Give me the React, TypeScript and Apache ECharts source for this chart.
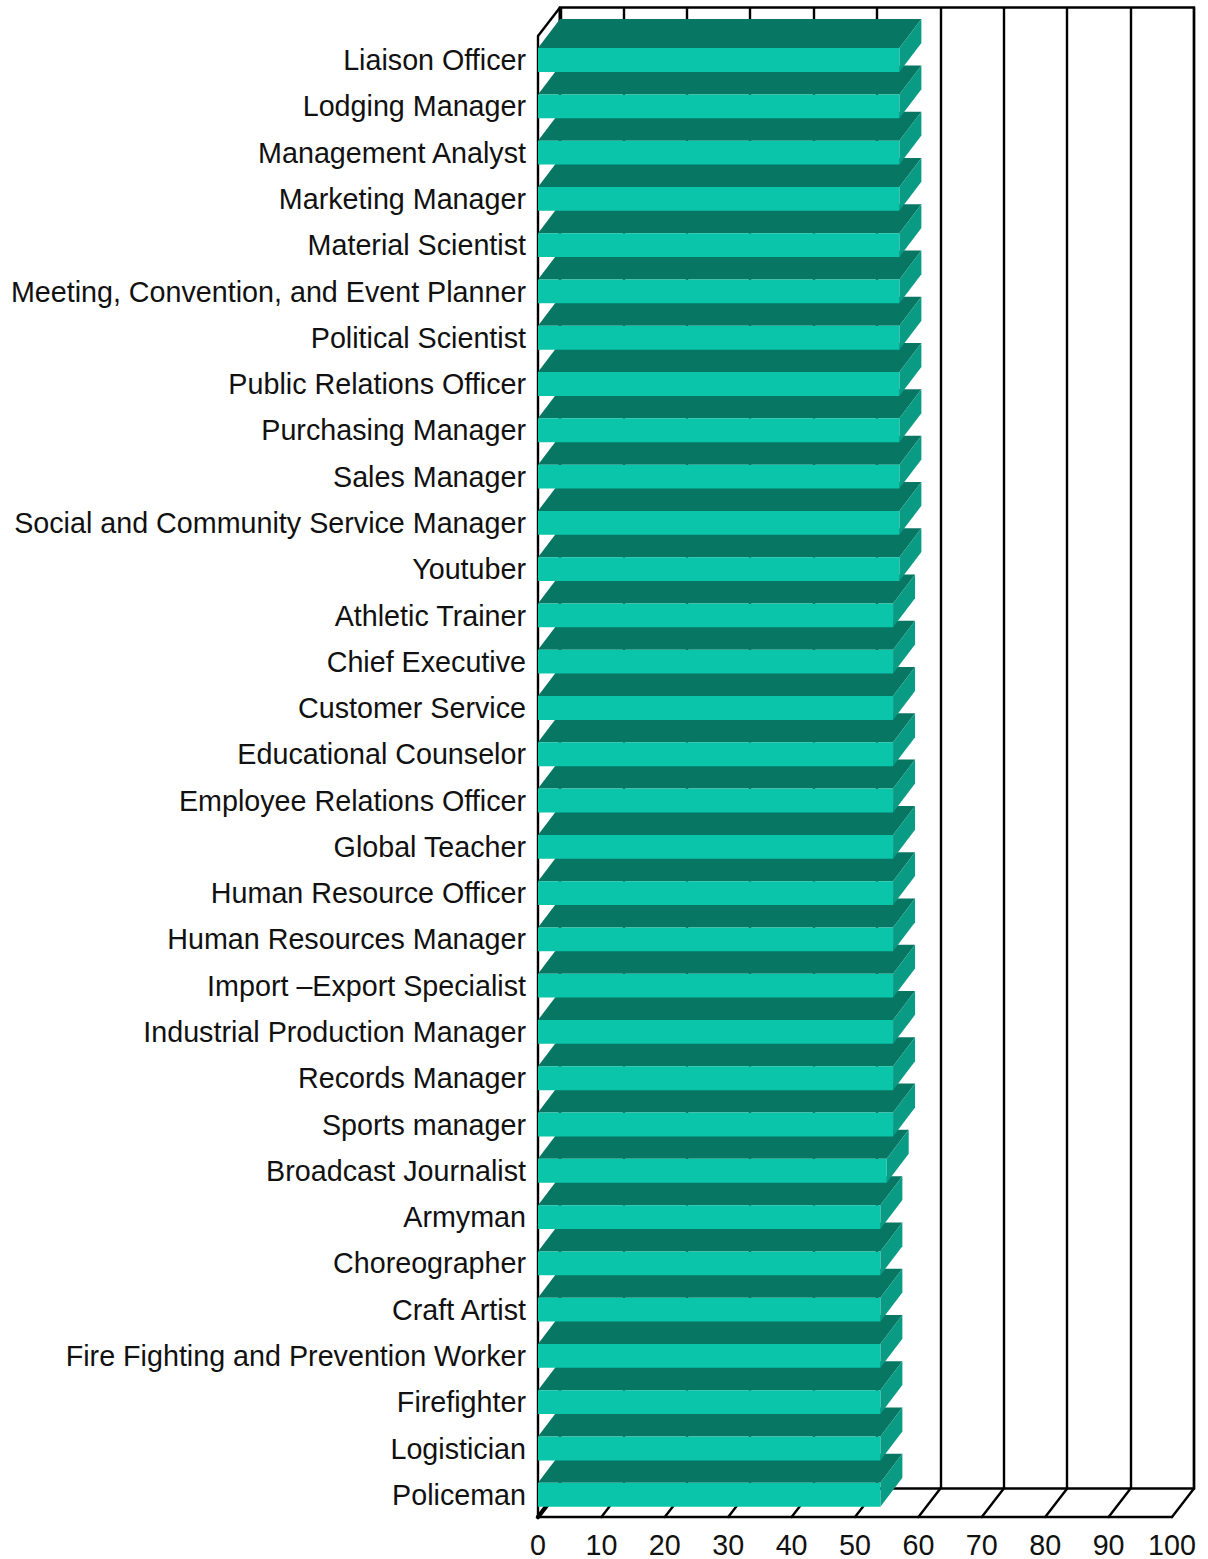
import React, { useEffect, useRef } from "react";
import * as echarts from "echarts";

const categories = [
  "Liaison Officer", "Lodging Manager", "Management Analyst", "Marketing Manager",
  "Material Scientist", "Meeting, Convention, and Event Planner", "Political Scientist",
  "Public Relations Officer", "Purchasing Manager", "Sales Manager",
  "Social and Community Service Manager", "Youtuber", "Athletic Trainer", "Chief Executive",
  "Customer Service", "Educational Counselor", "Employee Relations Officer", "Global Teacher",
  "Human Resource Officer", "Human Resources Manager", "Import –Export Specialist",
  "Industrial Production Manager", "Records Manager", "Sports manager", "Broadcast Journalist",
  "Armyman", "Choreographer", "Craft Artist", "Fire Fighting and Prevention Worker",
  "Firefighter", "Logistician", "Policeman",
];
const values = [
  57, 57, 57, 57, 57, 57, 57, 57, 57, 57, 57, 57,
  56, 56, 56, 56, 56, 56, 56, 56, 56, 56, 56, 56,
  55, 54, 54, 54, 54, 54, 54, 54,
];
const ticks = [0, 10, 20, 30, 40, 50, 60, 70, 80, 90, 100];

const DX = 22;
const DY = 29;
const FRONT = "#0AC5A9";
const TOP = "#077663";
const SIDE = "#0A9B84";
const FONT = "Liberation Sans";
const LINE = 2.4;

// Painted from the bottom category upward, so that upper bars overlap lower ones.
const orderedCategories = [...categories].reverse();
const orderedValues = [...values].reverse();

export default function App() {
  const ref = useRef<HTMLDivElement>(null);
  useEffect(() => {
    const chart = echarts.init(ref.current!, null, { renderer: "svg" });
    chart.setOption({
      animation: false,
      backgroundColor: "#fff",
      grid: [
        { left: 538, top: 36, width: 634, height: 1481 },
        { left: 560, top: 7.5, width: 634, height: 1481, show: true, borderColor: "#000", borderWidth: LINE, backgroundColor: "transparent" },
      ],
      xAxis: [
        {
          type: "value", gridIndex: 0, min: 0, max: 100, interval: 10,
          axisLine: { show: true, onZero: false, lineStyle: { color: "#000", width: LINE } },
          axisTick: { show: false },
          splitLine: { show: false },
          axisLabel: { color: "#111", fontSize: 28.7, fontFamily: FONT, margin: 13, showMinLabel: true, showMaxLabel: true },
        },
        {
          type: "value", gridIndex: 1, min: 0, max: 100, interval: 10,
          axisLine: { show: false }, axisTick: { show: false }, axisLabel: { show: false },
          splitLine: { show: true, lineStyle: { color: "#000", width: LINE } },
        },
      ],
      yAxis: [
        {
          type: "category", gridIndex: 0, data: orderedCategories,
          axisLine: { show: true, onZero: false, lineStyle: { color: "#000", width: LINE } },
          axisTick: { show: false },
          axisLabel: { color: "#111", fontSize: 28.7, fontFamily: FONT, margin: 12, interval: 0, verticalAlign: "top", lineHeight: 2 },
        },
        {
          type: "category", gridIndex: 1, data: orderedCategories,
          axisLine: { show: false }, axisTick: { show: false }, axisLabel: { show: false },
        },
      ],
      series: [
        {
          type: "custom", xAxisIndex: 0, yAxisIndex: 0, z: 3, silent: true,
          data: ticks.map((t) => [t]),
          encode: { x: 0 },
          renderItem: (params: any, api: any) => {
            const v = api.value(0);
            const x = api.coord([v, 0])[0];
            const bottom = params.coordSys.y + params.coordSys.height;
            return {
              type: "line",
              shape: { x1: x, y1: bottom, x2: x + DX, y2: bottom - DY + 0.5 },
              style: { stroke: "#000", lineWidth: v === 0 ? 4.5 : LINE, fill: "none", lineCap: "round" },
            };
          },
        },
        {
          type: "custom", xAxisIndex: 0, yAxisIndex: 0, z: 3, silent: true,
          data: [[0]],
          encode: { x: 0 },
          renderItem: (params: any, api: any) => {
            const x = api.coord([api.value(0), 0])[0];
            const top = params.coordSys.y;
            return {
              type: "group",
              children: [
                {
                  type: "line",
                  shape: { x1: x, y1: top, x2: x + DX, y2: top - DY + 0.5 },
                  style: { stroke: "#000", lineWidth: LINE, fill: "none" },
                },
                {
                  type: "line",
                  shape: { x1: x + DX + 0.5, y1: top - DY + 0.5, x2: x + DX + 0.5, y2: top },
                  style: { stroke: "#000", lineWidth: 3.5, fill: "none" },
                },
              ],
            };
          },
        },
        {
          type: "custom", xAxisIndex: 0, yAxisIndex: 0, z: 5, silent: true, clip: false,
          data: orderedValues.map((v, i) => [v, i]),
          encode: { x: 0, y: 1 },
          renderItem: (_params: any, api: any) => {
            const cat = api.value(1);
            const left = api.coord([0, cat]);
            const right = api.coord([api.value(0), cat]);
            const h = api.size([0, 1])[1] * 0.515;
            const t = left[1] - h / 2 + 0.9;
            const b = t + h;
            const l = left[0];
            const r = right[0];
            return {
              type: "group",
              children: [
                { type: "polygon", shape: { points: [[l, t], [l + DX, t - DY], [r + DX, t - DY], [r, t]] }, style: { fill: TOP } },
                { type: "polygon", shape: { points: [[r, t], [r + DX, t - DY], [r + DX, b - DY], [r, b]] }, style: { fill: SIDE } },
                { type: "rect", shape: { x: l, y: t, width: r - l, height: h }, style: { fill: FRONT } },
              ],
            };
          },
        },
      ],
    });
    return () => chart.dispose();
  }, []);
  return <div ref={ref} style={{ position: "absolute", left: 0, top: 0, width: 1208, height: 1559 }} />;
}
